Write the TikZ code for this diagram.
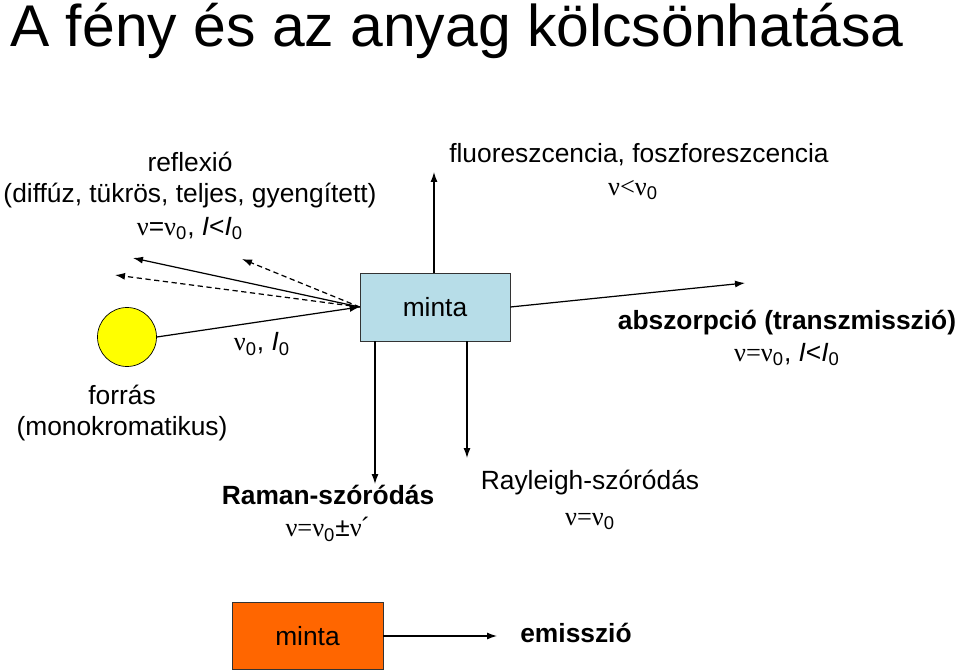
\documentclass[tikz,border=0pt]{standalone}
\usepackage{fontspec}
\setmainfont{Liberation Sans}
\newfontfamily\symfont{Liberation Serif}
\usepackage{tikz}
\usetikzlibrary{arrows.meta,positioning,calc}
\definecolor{sampleblue}{HTML}{B7DDE8}
\definecolor{emitorange}{HTML}{FF6600}
\definecolor{sunyellow}{HTML}{FFFF00}
\newcommand{\nus}{{\symfont ν}}
\newcommand{\sub}[1]{\textsubscript{#1}}
\tikzset{
  every node/.style={font=\fontsize{15}{17.6}\selectfont, inner sep=0pt},
  label/.style={align=center},
  mintabox/.style={draw=black!80, thin, fill=sampleblue, minimum width=3cm, minimum height=1.36cm},
  emitbox/.style={draw=black!80, thin, fill=emitorange, minimum width=3.02cm, minimum height=1.34cm},
  sun/.style={circle, draw=black, thin, fill=sunyellow, minimum size=1.18cm},
  arrow/.style={-{Latex[length=2mm, width=1.4mm]}, line width=0.7pt},
  darrow/.style={arrow, dashed, dash pattern=on 3pt off 2pt}
}

\begin{document}
\begin{tikzpicture}[x=0.02cm, y=-0.02cm]
  \useasboundingbox (0,0) rectangle (960,672);
  % title
  \node[anchor=base west, font=\fontsize{33.5}{40}\selectfont] (title) at (10,47) {A fény és az anyag kölcsönhatása};
  % sample and source
  \node[mintabox] (minta) at (435,307) {minta};
  \node[sun] (forras) at (127,337) {};
  \node[label] (forraslbl) at (122,413) {forrás\\(monokromatikus)};
  \node (inlbl) at (262,344) {\nus\sub{0}, \textit{I}\sub{0}};
  \draw[arrow] (forras.east) -- (minta.west);
  % reflection
  \coordinate (refl1) at (133,258);
  \coordinate (refl2) at (115,275);
  \coordinate (refl3) at (242,259);
  \draw[arrow] (minta.west) -- (refl1);
  \draw[darrow] (minta.west) -- (refl2);
  \draw[darrow] (minta.west) -- (refl3);
  \node[label] (refllbl) at (190,196) {reflexió\\(diffúz, tükrös, teljes, gyengített)\\[1pt]\nus=\nus\sub{0}, \textit{I}<\textit{I}\sub{0}};
  % fluorescence
  \coordinate (fluor) at (434,172);
  \draw[arrow] (minta.north -| fluor) -- (fluor);
  \node (fluorlbl) at (639,155) {fluoreszcencia, foszforeszcencia};
  \node (fluornu) at (633,190) {{\symfont ν<ν}\sub{0}};
  % transmission
  \coordinate (trans) at (745,283);
  \draw[arrow] (minta.east) -- (trans);
  \node[label] (abszlbl) at (787,338) {\textbf{abszorpció (transzmisszió)}\\[1pt]{\symfont ν=ν}\sub{0}, \textit{I}<\textit{I}\sub{0}};
  % scattering
  \coordinate (raman) at (375,484);
  \coordinate (rayleigh) at (467,458);
  \draw[arrow] (minta.south -| raman) -- (raman);
  \draw[arrow] (minta.south -| rayleigh) -- (rayleigh);
  \node[label] (ramanlbl) at (328,513) {\textbf{Raman-szóródás}\\[1pt]{\symfont ν=ν}\sub{0}±{\symfont ν}´};
  \node[label] (raylbl) at (590,500) {Rayleigh-szóródás\\[3pt]{\symfont ν=ν}\sub{0}};
  % emission
  \node[emitbox] (emit) at (307.5,636) {minta};
  \coordinate (emend) at (497,636);
  \draw[arrow] (emit.east) -- (emend);
  \node (emlbl) at (576,633) {\textbf{emisszió}};
\end{tikzpicture}
\end{document}
